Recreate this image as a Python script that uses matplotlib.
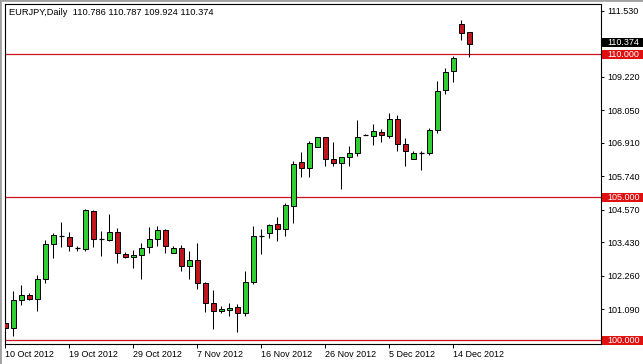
import matplotlib
matplotlib.use('Agg')
import matplotlib.pyplot as plt
import matplotlib.transforms as mtransforms
from matplotlib.patches import Rectangle
from matplotlib.lines import Line2D
import pandas as pd

plt.rcParams['font.family'] = ['Liberation Sans', 'DejaVu Sans']

# ---------------- data ----------------
header = "EURJPY,Daily  110.786 110.787 109.924 110.374"
# daily bars (broker feed includes Sunday sessions, no Saturdays)
dates = [d for d in pd.date_range("2012-10-10", "2012-12-17") if d.dayofweek != 5]

opens = [100.60, 100.42, 101.40, 101.60, 101.45, 102.14, 103.36, 103.66, 103.62, 103.22,
         103.18, 104.53, 103.53, 103.51, 103.78, 103.02, 102.90, 102.97, 103.25, 103.54,
         103.86, 103.07, 103.22, 102.60, 102.80, 102.02, 101.29, 101.02, 101.07, 101.15,
         100.97, 102.05, 103.65, 103.74, 104.06, 103.88, 104.71, 106.22, 106.02, 106.76,
         107.11, 106.35, 106.20, 106.41, 106.55, 107.19, 107.16, 107.29, 107.16, 107.75,
         106.87, 106.35, 106.55, 106.55, 107.37, 108.74, 109.41, 111.05, 110.786]
highs = [101.16, 101.73, 101.93, 101.65, 102.28, 103.51, 103.76, 104.14, 103.78, 103.31,
         104.59, 104.56, 103.82, 104.42, 103.92, 103.08, 103.16, 103.41, 103.98, 104.01,
         103.88, 103.30, 103.33, 103.13, 103.39, 102.04, 101.75, 101.20, 101.31, 101.26,
         102.42, 104.01, 103.88, 104.07, 104.31, 104.80, 106.28, 106.59, 106.96, 107.12,
         107.12, 106.94, 106.42, 106.81, 107.69, 107.20, 107.57, 107.39, 107.95, 107.89,
         107.07, 106.63, 106.63, 107.43, 109.06, 109.53, 109.96, 111.20, 110.787]
lows = [100.25, 100.15, 101.25, 101.40, 101.02, 102.02, 102.89, 103.27, 103.12, 103.12,
        103.13, 103.27, 102.96, 103.47, 102.69, 102.88, 102.52, 102.16, 103.06, 103.31,
        103.04, 103.05, 102.43, 102.16, 101.81, 100.99, 100.39, 100.94, 100.85, 100.29,
        100.85, 101.96, 103.02, 103.59, 103.48, 103.66, 104.09, 105.71, 105.71, 106.75,
        106.08, 106.08, 105.28, 106.11, 106.43, 107.18, 106.84, 106.92, 107.07, 106.61,
        106.11, 106.33, 105.94, 106.47, 107.25, 108.62, 109.03, 110.50, 109.924]
closes = [100.42, 101.40, 101.60, 101.45, 102.16, 103.36, 103.68, 103.66, 103.31, 103.22,
          104.56, 103.53, 103.53, 103.78, 103.04, 102.90, 102.97, 103.24, 103.53, 103.85,
          103.30, 103.22, 102.60, 102.80, 102.02, 101.29, 101.02, 101.09, 101.14, 100.97,
          102.05, 103.66, 103.65, 104.04, 103.88, 104.74, 106.16, 106.02, 106.90, 107.11,
          106.34, 106.20, 106.41, 106.55, 107.11, 107.19, 107.31, 107.18, 107.74, 106.87,
          106.61, 106.55, 106.55, 107.34, 108.71, 109.39, 109.88, 110.76, 110.374]

date_tick_labels = ["10 Oct 2012", "19 Oct 2012", "29 Oct 2012", "7 Nov 2012",
                    "16 Nov 2012", "26 Nov 2012", "5 Dec 2012", "14 Dec 2012"]
price_ticks = [111.530, 109.220, 108.050, 106.910, 105.740, 104.570, 103.430, 102.260, 101.090]
level_lines = [110.000, 105.000, 100.000]

# ---------------- styles ----------------
W, H = 643, 364
bull = '#32CD32'
bear = '#C0161E'
line_red = '#CC1122'
box_red = '#E01010'
fs = 6.5

fig = plt.figure(figsize=(W / 100, H / 100), dpi=100)
fig.patch.set_facecolor('white')
ax = fig.add_axes([5 / W, 1 - 344 / H, 596 / W, 340 / H])
ax.set_facecolor('white')

xs = list(range(len(dates)))
for x, o, h, l, c in zip(xs, opens, highs, lows, closes):
    ax.vlines(x, l, h, color='black', linewidth=0.75, zorder=2)
    if abs(c - o) < 1e-9:
        ax.hlines(o, x - 0.31, x + 0.31, color='black', linewidth=0.9, zorder=3)
    else:
        col = bull if c > o else bear
        ax.bar(x, abs(c - o), bottom=min(o, c), width=0.62, color=col,
               edgecolor='black', linewidth=0.7, zorder=3)

for lv in level_lines:
    ax.axhline(lv, color=line_red, linewidth=0.9, zorder=1)

ax.set_xlim(-0.05, 74.45)
ax.set_ylim(99.87, 111.763)

# x ticks
date_strs = [f"{d.day} {d.strftime('%b %Y')}" for d in dates]
xt = [date_strs.index(s) for s in date_tick_labels]
ax.set_xticks(xt)
ax.set_xticklabels(date_tick_labels, fontsize=fs, ha='left')
offset = mtransforms.ScaledTranslation(2 / 100, 0, fig.dpi_scale_trans)
for lab in ax.get_xticklabels():
    lab.set_transform(lab.get_transform() + offset)
ax.tick_params(axis='x', length=3, width=0.7, pad=1, direction='out', colors='black')

# y ticks on right
ax.yaxis.tick_right()
ax.set_yticks(price_ticks)
ax.set_yticklabels([f"{v:.3f}" for v in price_ticks], fontsize=fs)
ax.tick_params(axis='y', length=2.3, width=0.7, pad=2.5, direction='out')
ax.tick_params(axis='y', which='both', left=False)

for sp in ax.spines.values():
    sp.set_color('black')
    sp.set_linewidth(0.8)

# price labels boxes
bt = mtransforms.blended_transform_factory(fig.transFigure, ax.transData)
box_h = 9 / 28.59
def price_box(val, fc, yoff=0.0):
    fig.add_artist(Rectangle((602 / W, val - box_h / 2 + yoff), 41 / W, box_h,
                             transform=bt, facecolor=fc, edgecolor='none', zorder=5))
    fig.text(607 / W, val + yoff, f"{val:.3f}", transform=bt, color='white',
             fontsize=fs, va='center', ha='left', zorder=6)

price_box(closes[-1], 'black', yoff=0.04)
for lv in level_lines:
    price_box(lv, box_red)

# header text
fig.text(9 / W, 1 - 12.5 / H, header, fontsize=fs + 0.2, color='black', va='center', ha='left')

# window border
fig.add_artist(Line2D([0, 0], [0, 1], transform=fig.transFigure, color='#A0A0A0', linewidth=2))
fig.add_artist(Line2D([0, 1], [1, 1], transform=fig.transFigure, color='#A0A0A0', linewidth=2))

fig.savefig('out.png', dpi=100)
